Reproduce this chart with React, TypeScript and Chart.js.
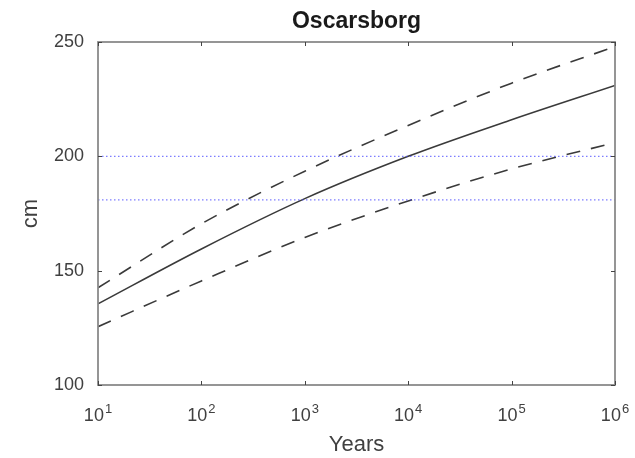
import React, { useEffect, useRef } from "react";
import { Chart, registerables } from "chart.js";

Chart.register(...registerables);

const titleText = "Oscarsborg";
const xAxisLabel = "Years";
const yAxisLabel = "cm";

const years = [10, 100, 1000, 10000, 100000, 1000000];
const central = [135.5, 159.5, 181.5, 200, 216, 231];
const upper = [142.5, 170.5, 193.5, 213.5, 232, 248];
const lower = [125.5, 145.5, 164.5, 180.5, 194.5, 206];

const refLevels = [200, 181];
const refSpan = [10, 1000000];

const xTickValues = [10, 100, 1000, 10000, 100000, 1000000];
const xTickBase = "10";
const xTickExponents = ["1", "2", "3", "4", "5", "6"];
const yTickValues = [100, 150, 200, 250];

const FONT = "'Liberation Sans', Arial, Helvetica, sans-serif";

const boxPlugin = {
  id: "boxPlugin",
  afterDraw(chart: any) {
    const { ctx, chartArea } = chart;
    const { left, right, top, bottom } = chartArea;
    const xs = chart.scales.x;
    const ys = chart.scales.y;
    ctx.save();
    ctx.strokeStyle = "#8a8a8a";
    ctx.lineWidth = 1.8;
    ctx.strokeRect(left, top, right - left, bottom - top);
    ctx.strokeStyle = "#444";
    ctx.lineWidth = 1;
    const tl = 4;
    ctx.beginPath();
    xTickValues.forEach((v) => {
      const px = Math.round(xs.getPixelForValue(v)) + 0.5;
      ctx.moveTo(px, bottom);
      ctx.lineTo(px, bottom - tl);
      ctx.moveTo(px, top);
      ctx.lineTo(px, top + tl);
    });
    yTickValues.forEach((v) => {
      const py = Math.round(ys.getPixelForValue(v)) + 0.5;
      ctx.moveTo(left, py);
      ctx.lineTo(left + tl, py);
      ctx.moveTo(right, py);
      ctx.lineTo(right - tl, py);
    });
    ctx.stroke();

    // x tick labels with superscript exponents
    ctx.fillStyle = "#404040";
    ctx.textBaseline = "alphabetic";
    ctx.textAlign = "left";
    const baseFont = `18px ${FONT}`;
    const expFont = `13px ${FONT}`;
    const baseY = bottom + 35.5;
    xTickValues.forEach((v, i) => {
      const px = xs.getPixelForValue(v);
      ctx.font = baseFont;
      const wb = ctx.measureText(xTickBase).width;
      ctx.font = expFont;
      const we = ctx.measureText(xTickExponents[i]).width;
      const x0 = px - (wb + we + 1) / 2;
      ctx.font = baseFont;
      ctx.fillText(xTickBase, x0, baseY);
      ctx.font = expFont;
      ctx.fillText(xTickExponents[i], x0 + wb + 1, baseY - 8);
    });
    ctx.restore();
  },
};

export default function App() {
  const ref = useRef<HTMLCanvasElement | null>(null);

  useEffect(() => {
    if (!ref.current) return;
    const toPts = (arr: number[]) => years.map((x, i) => ({ x, y: arr[i] }));
    const refSets = refLevels.map((lv) => ({
      data: refSpan.map((x) => ({ x, y: lv })),
      borderColor: "rgba(70,70,255,0.7)",
      borderWidth: 1.3,
      borderDash: [1.5, 2.5],
      pointRadius: 0,
      tension: 0,
    }));
    const lineStyle = {
      borderColor: "#3a3a3a",
      borderWidth: 1.6,
      pointRadius: 0,
      cubicInterpolationMode: "monotone",
    };
    const chart = new Chart(ref.current, {
      type: "line",
      data: {
        datasets: [
          ...refSets,
          { ...lineStyle, data: toPts(upper), borderDash: [14, 11] },
          { ...lineStyle, data: toPts(central) },
          { ...lineStyle, data: toPts(lower), borderDash: [14, 11] },
        ] as any,
      },
      options: {
        animation: false,
        responsive: false,
        devicePixelRatio: 1,
        layout: { padding: { left: 0, right: 20, top: 0, bottom: 0 } },
        plugins: {
          legend: { display: false },
          tooltip: { enabled: false },
          title: {
            display: true,
            fullSize: false,
            text: titleText,
            color: "#1a1a1a",
            font: { family: FONT, size: 23, weight: "bold" },
            padding: { top: 8, bottom: 6.4 },
          },
        },
        scales: {
          x: {
            type: "logarithmic",
            min: 10,
            max: 1000000,
            grid: { display: false, drawTicks: false },
            border: { display: false },
            afterBuildTicks: (s: any) => {
              s.ticks = xTickValues.map((v) => ({ value: v }));
            },
            afterFit: (s: any) => {
              s.height = 73;
            },
            ticks: { display: false },
            title: {
              display: true,
              text: xAxisLabel,
              color: "#404040",
              font: { family: FONT, size: 22 },
              padding: { top: 0, bottom: 0 },
            },
          },
          y: {
            type: "linear",
            min: 100,
            max: 250,
            grid: { display: false, drawTicks: false },
            border: { display: false },
            afterBuildTicks: (s: any) => {
              s.ticks = yTickValues.map((v) => ({ value: v }));
            },
            afterFit: (s: any) => {
              s.width = 98;
            },
            ticks: {
              padding: 14,
              color: "#404040",
              font: { family: FONT, size: 18 },
            },
            title: {
              display: true,
              text: yAxisLabel,
              color: "#404040",
              font: { family: FONT, size: 22 },
              padding: { top: 18, bottom: 0 },
            },
          },
        },
      } as any,
      plugins: [boxPlugin],
    });
    return () => chart.destroy();
  }, []);

  return (
    <div style={{ position: "fixed", left: 0, top: 0, width: 635, height: 458, background: "#fff" }}>
      <canvas ref={ref} width={635} height={458} style={{ width: 635, height: 458 }} />
    </div>
  );
}
